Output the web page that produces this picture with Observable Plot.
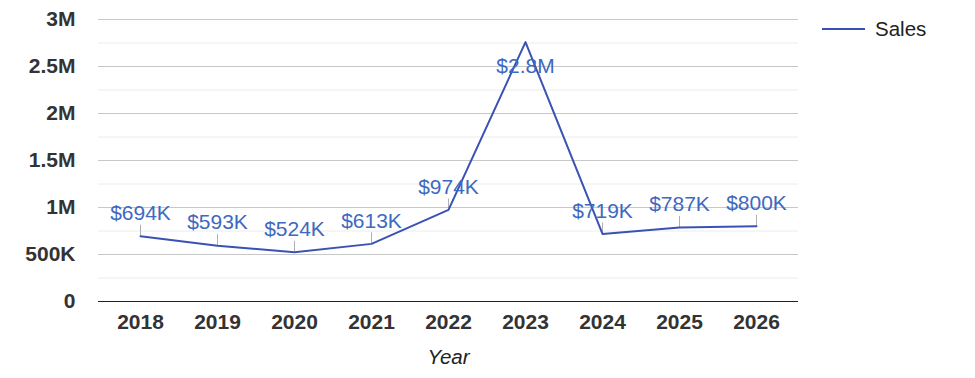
<!DOCTYPE html>
<html><head><meta charset="utf-8">
<script src="https://cdn.jsdelivr.net/npm/d3@7"></script>
<script src="https://cdn.jsdelivr.net/npm/@observablehq/plot@0.6"></script>
<style>
body{margin:0;background:#fff;}
#wrap{position:relative;width:975px;height:378px;font-family:"Liberation Sans",Arial,sans-serif;}
#legend{position:absolute;left:822px;top:17px;display:flex;align-items:center;font-size:20.5px;color:#222;}
#legend .sw{width:43px;height:0;border-top:2px solid #3b4fae;margin-right:10px;}
svg g[aria-label^="x-axis"] text, svg g[aria-label^="y-axis"] text{font-weight:bold;fill:#333;font-size:21px;}
svg g[aria-label="x-axis label"] text{font-weight:normal;font-style:italic;fill:#222;font-size:20.5px;}
</style></head><body><div id="wrap"></div>
<script>
const years = ["2018","2019","2020","2021","2022","2023","2024","2025","2026"];
const sales = [694000, 593000, 524000, 613000, 974000, 2760000, 719000, 787000, 800000];
const valueLabels = ["$694K","$593K","$524K","$613K","$974K","$2.8M","$719K","$787K","$800K"];
const yTicks = [0, 500000, 1000000, 1500000, 2000000, 2500000, 3000000];
const yMinor = [250000, 750000, 1250000, 1750000, 2250000, 2750000];
const seriesName = "Sales";
const labelBelow = ["2023"];

const data = years.map((year, i) => ({year, sales: sales[i], label: valueLabels[i]}));
const fmt = d => d === 0 ? "0" : d >= 1e6 ? `${d / 1e6}M` : `${d / 1e3}K`;
const above = data.filter(d => !labelBelow.includes(d.year));
const below = data.filter(d => labelBelow.includes(d.year));

const chart = Plot.plot({
  width: 975, height: 378,
  marginLeft: 98, marginRight: 177, marginTop: 19, marginBottom: 77,
  style: {fontFamily: "Liberation Sans, Arial, sans-serif", fontSize: "21px", background: "#fff"},
  x: {type: "point", domain: years, padding: 0.5, label: "Year", labelAnchor: "center", labelOffset: 62, tickSize: 0, tickPadding: 13},
  y: {domain: [0, 3000000], ticks: yTicks, tickFormat: fmt, tickSize: 0, tickPadding: 23, label: null},
  marks: [
    Plot.ruleY(yMinor, {stroke: "#ececec"}),
    Plot.ruleY(yTicks.slice(1), {stroke: "#c8c8c8"}),
    Plot.ruleY([0], {stroke: "#222"}),
    Plot.ruleX(above, {x: "year", y1: "sales", y2: "sales", insetTop: -11, stroke: "#b0b0b0"}),
    Plot.line(data, {x: "year", y: "sales", stroke: "#3a52b4", strokeWidth: 2}),
    Plot.text(above, {x: "year", y: "sales", text: "label", dy: -23, fill: "#3d69c0", fontSize: 21}),
    Plot.text(below, {x: "year", y: "sales", text: "label", dy: 24, fill: "#3d69c0", fontSize: 21})
  ]
});
const wrap = document.getElementById("wrap");
wrap.appendChild(chart);
const legend = document.createElement("div");
legend.id = "legend";
legend.innerHTML = `<span class="sw"></span><span>${seriesName}</span>`;
wrap.appendChild(legend);
</script></body></html>
